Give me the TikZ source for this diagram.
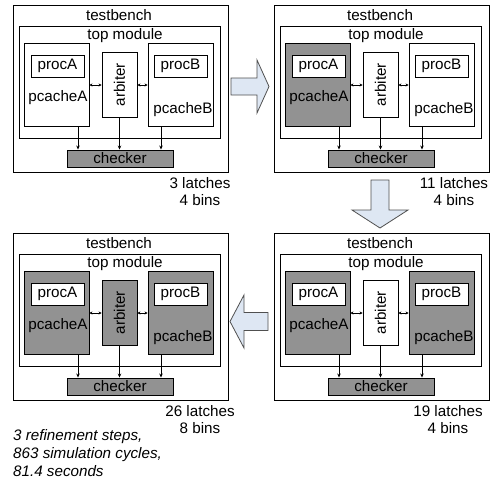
\documentclass[tikz,border=0pt]{standalone}
\usepackage{fontspec}
\setmainfont{Liberation Sans}
\usetikzlibrary{arrows.meta}
\definecolor{cgray}{RGB}{146,146,146}
\definecolor{cblue}{RGB}{222,231,243}
\definecolor{cedge}{RGB}{80,80,80}

\begin{document}
\begin{tikzpicture}[
    x=1pt, y=-1pt,
    font=\fontsize{15.2}{17}\selectfont,
    box/.style={draw, line width=0.9pt, inner sep=0pt, fill=white},
    txt/.style={inner sep=0pt},
    flow/.style={-{Stealth[length=4pt,width=3.5pt]}, line width=0.8pt},
    link/.style={{Stealth[length=3pt,width=3pt]}-{Stealth[length=3pt,width=3pt]}, line width=0.8pt},
    bigarrow/.style={draw=cedge, fill=cblue, line width=0.8pt}
]
\useasboundingbox (0,0) rectangle (493,483);

% one panel per refinement step
\foreach \n/\dx/\dy/\fa/\fr/\fb/\lx/\lat/\bins in {
    1/13/5/white/white/white/187/3/4,
    2/274/5/cgray/white/white/180/11/4,
    3/13/233/cgray/cgray/cgray/187/26/8,
    4/274/233/cgray/white/cgray/174/19/4}{
  \begin{scope}[shift={(\dx,\dy)}]
    \node[box, minimum width=215pt, minimum height=167pt] (tb\n) at (107.5,83.5) {};
    \node[txt] (tbl\n) at (106,10.5) {testbench};
    \node[box, minimum width=201pt, minimum height=112pt] (top\n) at (106.5,77) {};
    \node[txt] (topl\n) at (112,30.5) {top module};

    \node[box, fill=\fa, minimum width=65pt, minimum height=83pt] (pa\n) at (43.5,79.5) {};
    \node[box, minimum width=53pt, minimum height=22pt] (ra\n) at (44.5,61) {procA};
    \node[txt] (pal\n) at (45,92.5) {pcacheA};

    \node[box, fill=\fr, minimum width=35pt, minimum height=65pt] (arb\n) at (106.5,79.5) {};
    \node[txt, rotate=90] (arbl\n) at (arb\n) {arbiter};

    \node[box, fill=\fb, minimum width=65pt, minimum height=83pt] (pb\n) at (167.5,79.5) {};
    \node[box, minimum width=53pt, minimum height=22pt] (rb\n) at (167.5,61) {procB};
    \node[txt] (pbl\n) at (170,104.5) {pcacheB};

    \node[box, fill=cgray, minimum width=106pt, minimum height=17pt] (chk\n) at (107,153.5) {checker};
    \node[txt, align=center] (res\n) at (\lx,186.5) {\lat{} latches\\\bins{} bins};

    \draw[link] (pa\n.east |- 0,80) -- (arb\n.west |- 0,80);
    \draw[link] (arb\n.east |- 0,80) -- (pb\n.west |- 0,80);
    \draw[flow] (pa\n.south -| 65,0) -- (chk\n.north -| 65,0);
    \draw[flow] (arb\n.south) -- (arb\n.south |- chk\n.north);
    \draw[flow] (pb\n.south -| 148,0) -- (chk\n.north -| 148,0);
  \end{scope}
}

% steps between the panels
\draw[bigarrow] (231,78) -- (257,78) -- (257,60) -- (269,86.5) -- (257,113) -- (257,95) -- (231,95) -- cycle;
\draw[bigarrow] (371,180) -- (389,180) -- (389,210) -- (408,210) -- (380,228) -- (352,210) -- (371,210) -- cycle;
\draw[bigarrow] (268,312.5) -- (244,312.5) -- (244,295) -- (230,321.5) -- (244,348) -- (244,330.5) -- (268,330.5) -- cycle;

\node[txt, align=left, anchor=north west, font=\fontsize{15.2}{18}\selectfont\itshape] (summary) at (13,429)
    {3 refinement steps,\\863 simulation cycles,\\81.4 seconds};
\end{tikzpicture}
\end{document}
